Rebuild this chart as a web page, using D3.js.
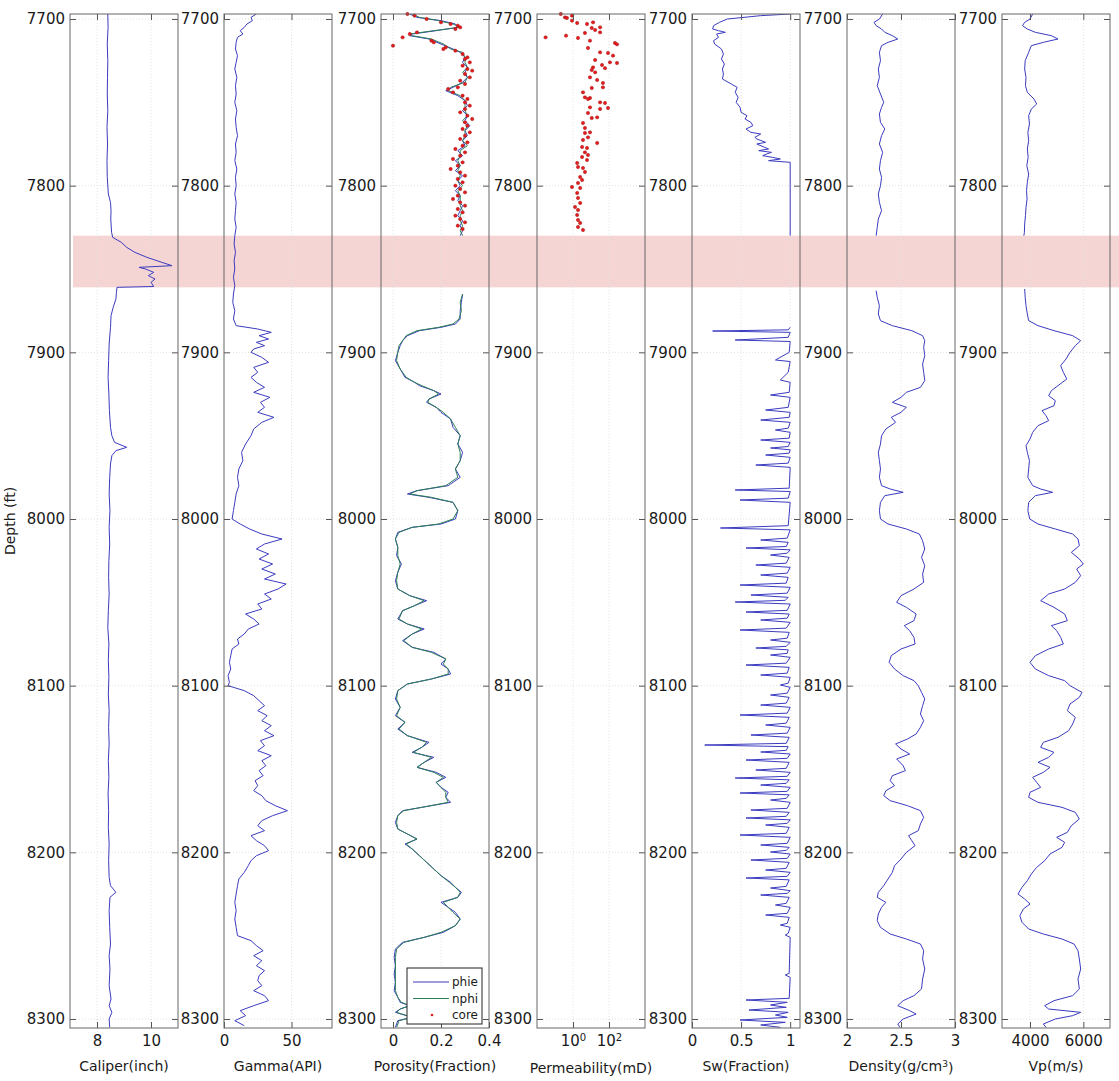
<!DOCTYPE html>
<html>
<head>
<meta charset="utf-8">
<script src="https://cdn.jsdelivr.net/npm/d3@7"></script>
<style>
  body { margin: 0; background: #fff; }
  svg text { font-family: "DejaVu Sans", sans-serif; fill: #1a1a1a; }
</style>
</head>
<body>
<div id="chart"></div>
<script>
// depth ticks and the washout zone (ft)
const depthTicks = [7700, 7800, 7900, 8000, 8100, 8200, 8300]
const zoneTop = 7830
const zoneBottom = 7861

// [depth ft, value] pairs; null = no data
const caliper = [
  [7697, 8.40], [7705, 8.41], [7715, 8.38], [7725, 8.40], [7735, 8.39], [7745, 8.38], [7755, 8.40],
  [7765, 8.37], [7775, 8.39], [7785, 8.37], [7795, 8.38], [7805, 8.42], [7810, 8.50], [7815, 8.52],
  [7820, 8.51], [7828, 8.54], [7831, 8.58], [7834, 8.9], [7837, 9.1], [7840, 9.4], [7843, 9.85],
  [7846, 10.4], [7848, 10.78], [7849, 9.56], [7850, 9.8], [7852, 10.1], [7854, 9.9], [7856, 10.15],
  [7858, 10.0], [7860.5, 10.1], [7861, 8.74], [7864, 8.72], [7868, 8.7], [7873, 8.6], [7878, 8.52],
  [7885, 8.5], [7895, 8.45], [7905, 8.43], [7915, 8.41], [7925, 8.44], [7935, 8.46], [7945, 8.5],
  [7950, 8.55], [7954, 8.65], [7957, 9.1], [7959, 8.7], [7962, 8.55], [7967, 8.5], [7975, 8.47],
  [7985, 8.45], [7995, 8.48], [8005, 8.45], [8015, 8.47], [8025, 8.44], [8035, 8.43], [8045, 8.45],
  [8055, 8.42], [8065, 8.4], [8075, 8.44], [8085, 8.42], [8095, 8.44], [8105, 8.42], [8115, 8.45],
  [8125, 8.43], [8135, 8.45], [8145, 8.42], [8155, 8.44], [8165, 8.41], [8175, 8.43], [8185, 8.42],
  [8195, 8.45], [8205, 8.43], [8215, 8.45], [8220, 8.5], [8224, 8.7], [8227, 8.48], [8235, 8.45],
  [8245, 8.47], [8255, 8.5], [8262, 8.45], [8270, 8.48], [8280, 8.45], [8288, 8.52], [8292, 8.45],
  [8296, 8.55], [8300, 8.45], [8305, 8.47]
]

const gamma = [
  [7697, 24], [7699, 20], [7701, 21], [7703, 17], [7705, 15], [7707, 12], [7709, 14], [7711, 10],
  [7714, 9], [7718, 8.5], [7722, 10], [7726, 9], [7730, 8], [7735, 9.5], [7740, 8.5], [7745, 9],
  [7750, 8], [7755, 9.5], [7760, 8.5], [7765, 9], [7770, 10], [7775, 8.5], [7780, 9], [7785, 8],
  [7790, 9.5], [7795, 8.5], [7800, 9], [7805, 8], [7810, 9], [7815, 8.5], [7820, 8], [7825, 9],
  [7830, 8], [7835, 7.5], [7840, 8.5], [7845, 7.5], [7850, 8], [7855, 7], [7860, 8], [7865, 7],
  [7870, 6.5], [7875, 8], [7880, 7], [7884, 9], [7886, 25], [7888, 35], [7890, 26], [7892, 33],
  [7894, 24], [7896, 30], [7898, 22], [7900, 20], [7903, 28], [7906, 33], [7909, 22], [7912, 25],
  [7915, 20], [7918, 24], [7921, 30], [7924, 22], [7927, 34], [7930, 27], [7933, 30], [7936, 25],
  [7939, 37], [7942, 28], [7946, 22], [7950, 20], [7955, 16], [7960, 13], [7965, 14], [7970, 11],
  [7975, 10], [7980, 11], [7985, 9], [7990, 8], [7995, 7], [8000, 6], [8003, 12], [8006, 19],
  [8009, 28], [8012, 43], [8015, 30], [8018, 24], [8021, 33], [8024, 26], [8027, 36], [8030, 28],
  [8033, 38], [8036, 30], [8039, 46], [8042, 40], [8045, 30], [8048, 35], [8051, 25], [8054, 28],
  [8057, 16], [8060, 22], [8063, 26], [8066, 18], [8069, 15], [8072, 10], [8075, 11], [8078, 6],
  [8082, 5], [8086, 4], [8090, 5], [8094, 3], [8098, 4], [8100, 3], [8103, 15], [8106, 22],
  [8109, 26], [8112, 30], [8115, 25], [8118, 32], [8121, 28], [8124, 35], [8127, 30], [8130, 37],
  [8133, 27], [8136, 30], [8139, 25], [8142, 35], [8145, 28], [8148, 31], [8151, 26], [8154, 29],
  [8157, 23], [8160, 25], [8163, 22], [8166, 28], [8169, 31], [8172, 38], [8175, 47], [8178, 36],
  [8181, 28], [8184, 25], [8187, 30], [8190, 20], [8193, 24], [8196, 30], [8199, 33], [8202, 24],
  [8205, 20], [8208, 18], [8212, 15], [8216, 11], [8220, 10], [8225, 9], [8230, 8], [8235, 9],
  [8240, 8], [8245, 9], [8250, 10], [8253, 20], [8256, 24], [8259, 29], [8262, 22], [8265, 28],
  [8268, 24], [8271, 30], [8274, 26], [8277, 25], [8280, 28], [8283, 22], [8286, 30], [8289, 33],
  [8292, 22], [8295, 12], [8298, 16], [8301, 8], [8304, 15]
]

const phie = [
  [7697, 0.07], [7699, 0.1], [7701, 0.2], [7703, 0.26], [7705, 0.27], [7707, 0.18], [7709, 0.08],
  [7710, 0.07], [7712, 0.15], [7715, 0.2], [7718, 0.25], [7720, 0.28], [7723, 0.3], [7726, 0.29],
  [7729, 0.31], [7732, 0.3], [7735, 0.31], [7738, 0.29], [7741, 0.25], [7743, 0.22], [7746, 0.27],
  [7749, 0.3], [7752, 0.31], [7755, 0.29], [7758, 0.31], [7761, 0.3], [7764, 0.32], [7767, 0.3],
  [7770, 0.31], [7773, 0.29], [7776, 0.3], [7779, 0.27], [7782, 0.29], [7785, 0.26], [7788, 0.28],
  [7791, 0.26], [7794, 0.29], [7797, 0.27], [7800, 0.28], [7803, 0.26], [7806, 0.28], [7809, 0.27],
  [7812, 0.29], [7815, 0.28], [7818, 0.27], [7821, 0.29], [7824, 0.28], [7827, 0.29], [7830, 0.28],
  [7845, null],
  [7865, 0.29], [7870, 0.285], [7875, 0.28], [7880, 0.28], [7883, 0.26], [7885, 0.2], [7887, 0.11],
  [7890, 0.06], [7893, 0.04], [7896, 0.03], [7900, 0.02], [7905, 0.01], [7910, 0.03], [7915, 0.05],
  [7918, 0.09], [7920, 0.11], [7923, 0.17], [7925, 0.2], [7928, 0.15], [7930, 0.14], [7933, 0.18],
  [7936, 0.2], [7940, 0.24], [7945, 0.25], [7950, 0.28], [7955, 0.27], [7960, 0.29], [7965, 0.28],
  [7970, 0.26], [7975, 0.28], [7980, 0.23], [7983, 0.1], [7985, 0.06], [7987, 0.15], [7990, 0.25],
  [7995, 0.27], [8000, 0.26], [8003, 0.2], [8005, 0.08], [8008, 0.02], [8012, 0.01], [8017, 0.02],
  [8022, 0.015], [8027, 0.035], [8032, 0.02], [8037, 0.01], [8042, 0.02], [8046, 0.07], [8049, 0.14],
  [8052, 0.09], [8055, 0.04], [8060, 0.02], [8063, 0.06], [8066, 0.13], [8069, 0.08], [8073, 0.04],
  [8077, 0.08], [8080, 0.17], [8084, 0.22], [8087, 0.2], [8090, 0.23], [8093, 0.24], [8096, 0.16],
  [8099, 0.06], [8103, 0.02], [8108, 0.01], [8113, 0.03], [8118, 0.01], [8122, 0.05], [8126, 0.02],
  [8130, 0.06], [8134, 0.15], [8137, 0.12], [8140, 0.08], [8143, 0.17], [8146, 0.13], [8149, 0.1],
  [8152, 0.18], [8155, 0.22], [8158, 0.18], [8161, 0.2], [8164, 0.23], [8167, 0.22], [8170, 0.24],
  [8173, 0.12], [8175, 0.04], [8178, 0.02], [8182, 0.01], [8186, 0.02], [8189, 0.06], [8192, 0.1],
  [8195, 0.05], [8198, 0.08], [8202, 0.11], [8206, 0.14], [8210, 0.17], [8214, 0.2], [8218, 0.24],
  [8221, 0.26], [8224, 0.285], [8227, 0.27], [8230, 0.2], [8233, 0.23], [8236, 0.26], [8240, 0.28],
  [8244, 0.26], [8248, 0.21], [8251, 0.13], [8254, 0.04], [8258, 0.01], [8263, 0.005], [8268, 0.01],
  [8273, 0.005], [8278, 0.01], [8283, 0.005], [8287, 0.02], [8290, 0.03], [8292, 0.07], [8294, 0.03],
  [8296, 0.01], [8299, 0.08], [8301, 0.02], [8305, 0.01]
]

const nphi = [
  [7697, 0.08], [7699, 0.11], [7701, 0.19], [7703, 0.25], [7705, 0.28], [7707, 0.17], [7709, 0.07],
  [7710, 0.08], [7712, 0.16], [7715, 0.21], [7718, 0.24], [7720, 0.29], [7723, 0.3], [7726, 0.3],
  [7729, 0.31], [7732, 0.29], [7735, 0.31], [7738, 0.3], [7741, 0.24], [7743, 0.23], [7746, 0.28],
  [7749, 0.3], [7752, 0.3], [7755, 0.3], [7758, 0.31], [7761, 0.29], [7764, 0.31], [7767, 0.3],
  [7770, 0.3], [7773, 0.29], [7776, 0.31], [7779, 0.28], [7782, 0.28], [7785, 0.27], [7788, 0.28],
  [7791, 0.27], [7794, 0.28], [7797, 0.27], [7800, 0.29], [7803, 0.27], [7806, 0.28], [7809, 0.28],
  [7812, 0.28], [7815, 0.29], [7818, 0.28], [7821, 0.28], [7824, 0.29], [7827, 0.28], [7830, 0.29],
  [7845, null],
  [7865, 0.29], [7870, 0.28], [7875, 0.285], [7880, 0.275], [7883, 0.25], [7885, 0.19], [7887, 0.1],
  [7890, 0.055], [7893, 0.04], [7896, 0.025], [7900, 0.02], [7905, 0.015], [7910, 0.03], [7915, 0.055],
  [7918, 0.09], [7920, 0.12], [7923, 0.17], [7925, 0.19], [7928, 0.15], [7930, 0.145], [7933, 0.18],
  [7936, 0.21], [7940, 0.24], [7945, 0.26], [7950, 0.28], [7955, 0.27], [7960, 0.28], [7965, 0.28],
  [7970, 0.26], [7975, 0.27], [7980, 0.22], [7983, 0.1], [7985, 0.07], [7987, 0.16], [7990, 0.25],
  [7995, 0.27], [8000, 0.25], [8003, 0.19], [8005, 0.08], [8008, 0.025], [8012, 0.01], [8017, 0.02],
  [8022, 0.02], [8027, 0.03], [8032, 0.02], [8037, 0.015], [8042, 0.02], [8046, 0.07], [8049, 0.13],
  [8052, 0.09], [8055, 0.04], [8060, 0.025], [8063, 0.06], [8066, 0.12], [8069, 0.08], [8073, 0.045],
  [8077, 0.08], [8080, 0.16], [8084, 0.22], [8087, 0.21], [8090, 0.23], [8093, 0.23], [8096, 0.16],
  [8099, 0.06], [8103, 0.02], [8108, 0.015], [8113, 0.03], [8118, 0.015], [8122, 0.05], [8126, 0.025],
  [8130, 0.06], [8134, 0.14], [8137, 0.12], [8140, 0.085], [8143, 0.16], [8146, 0.13], [8149, 0.1],
  [8152, 0.17], [8155, 0.21], [8158, 0.18], [8161, 0.2], [8164, 0.22], [8167, 0.22], [8170, 0.23],
  [8173, 0.12], [8175, 0.045], [8178, 0.02], [8182, 0.015], [8186, 0.02], [8189, 0.06], [8192, 0.1],
  [8195, 0.055], [8198, 0.08], [8202, 0.11], [8206, 0.14], [8210, 0.17], [8214, 0.2], [8218, 0.235],
  [8221, 0.26], [8224, 0.28], [8227, 0.27], [8230, 0.21], [8233, 0.23], [8236, 0.25], [8240, 0.28],
  [8244, 0.26], [8248, 0.2], [8251, 0.13], [8254, 0.045], [8258, 0.015], [8263, 0.01], [8268, 0.01],
  [8273, 0.01], [8278, 0.01], [8283, 0.01], [8287, 0.02], [8290, 0.035], [8292, 0.07], [8294, 0.03],
  [8296, 0.015], [8299, 0.08], [8301, 0.025], [8305, 0.015]
]

const corePhi = [
  [7697, 0.06], [7698, 0.09], [7700, 0.14], [7702, 0.2], [7703, 0.24], [7704, 0.27], [7705, 0.28],
  [7706, 0.26], [7708, 0.1], [7709, 0.07], [7711, 0.04], [7713, 0.16], [7714, 0.17], [7716, 0.0],
  [7717, 0.22], [7718, 0.21], [7719, 0.26], [7721, 0.29], [7723, 0.31], [7724, 0.3], [7726, 0.32],
  [7728, 0.29], [7730, 0.31], [7731, 0.33], [7733, 0.3], [7735, 0.32], [7737, 0.28], [7739, 0.3],
  [7741, 0.27], [7742, 0.23], [7744, 0.25], [7746, 0.29], [7748, 0.31], [7750, 0.3], [7752, 0.32],
  [7754, 0.3], [7756, 0.28], [7758, 0.31], [7760, 0.33], [7762, 0.3], [7764, 0.31], [7766, 0.29],
  [7768, 0.32], [7770, 0.3], [7772, 0.28], [7774, 0.31], [7776, 0.29], [7778, 0.26], [7780, 0.3],
  [7782, 0.28], [7784, 0.25], [7786, 0.29], [7788, 0.27], [7790, 0.24], [7792, 0.28], [7794, 0.3],
  [7796, 0.27], [7798, 0.29], [7800, 0.26], [7802, 0.28], [7804, 0.3], [7806, 0.27], [7808, 0.25],
  [7810, 0.28], [7812, 0.3], [7814, 0.27], [7816, 0.29], [7818, 0.26], [7820, 0.28], [7822, 0.3],
  [7824, 0.27], [7826, 0.29]
]

const corePerm = [
  [7697, 0.21], [7699, 0.36], [7699.4, 0.46], [7698, 0.88], [7701, 0.88], [7702.4, 1.7], [7703, 6],
  [7702, 13], [7705.4, 11], [7706.6, 17], [7705, 32], [7708, 32], [7708.4, 4.6], [7711, 0.03],
  [7710, 0.41], [7711.4, 1.9], [7713, 8.8], [7714.4, 215], [7715.2, 278], [7717.4, 6.8], [7720, 32],
  [7720.4, 88], [7722, 167], [7726.4, 278], [7724.6, 17], [7726, 113], [7729, 13], [7727.6, 41],
  [7729.5, 60], [7730.6, 11], [7732, 17], [7735, 8.8], [7736.6, 22], [7738.4, 46], [7741, 46],
  [7744, 3.6], [7741.4, 11], [7747, 4.6], [7747.4, 8.8], [7748, 6.8], [7750, 32], [7750.4, 60],
  [7753.4, 88], [7754, 32], [7753, 8.8], [7756.4, 6.8], [7759, 22], [7759.4, 11], [7762.4, 3.6],
  [7765.4, 4.6], [7768, 8.8], [7768.4, 4.6], [7771, 6.8], [7772.6, 3.6], [7774.4, 22], [7776.8, 3.2],
  [7777.4, 6], [7780, 4.6], [7781.6, 6.8], [7782.8, 3.2], [7784.6, 6], [7786.4, 1.7], [7788.8, 1.9],
  [7789.4, 3.6], [7791.8, 4.6], [7794.8, 2.5], [7796.6, 3.2], [7798.4, 1.9], [7800.8, 0.88],
  [7801.4, 2.5], [7804.4, 1.7], [7807.4, 1.9], [7810.4, 2.5], [7812.8, 1.3], [7814.6, 1.9],
  [7817.6, 1.7], [7820.6, 1.9], [7822.4, 2.5], [7824.8, 1.9], [7826.6, 3.6]
]

const sw = [
  [7697, 1.0], [7698, 0.7], [7700, 0.36], [7702, 0.28], [7704, 0.22], [7706, 0.21], [7707, 0.27],
  [7708, 0.34], [7709, 0.25], [7711, 0.27], [7713, 0.22], [7715, 0.23], [7718, 0.3], [7721, 0.32],
  [7724, 0.3], [7727, 0.33], [7730, 0.31], [7733, 0.32], [7736, 0.31], [7739, 0.4], [7741, 0.46],
  [7744, 0.44], [7747, 0.47], [7750, 0.45], [7753, 0.49], [7756, 0.5], [7758, 0.56], [7760, 0.54],
  [7762, 0.6], [7764, 0.62], [7766, 0.55], [7768, 0.6], [7769, 0.7], [7771, 0.64], [7772, 0.66],
  [7774, 0.75], [7775, 0.66], [7777, 0.74], [7778, 0.78], [7779, 0.68], [7780, 0.81], [7781, 0.76],
  [7782, 0.72], [7783, 0.82], [7784, 0.9], [7785, 0.78], [7786, 1.0], [7800, 1.0], [7830, 1.0],
  [7850, null],
  [7885, 1.0], [7886.5, 0.98], [7887.2, 0.21], [7888, 1.0], [7891, 0.98], [7892.6, 0.44], [7893.5, 1.0],
  [7900, 0.99], [7904.6, 0.85], [7905.5, 1.0], [7912, 0.98], [7916.6, 0.9], [7918, 1.0], [7924, 0.99],
  [7925.6, 0.8], [7927, 1.0], [7933, 0.98], [7934.6, 0.75], [7936, 1.0], [7939, 0.99], [7940.6, 0.7],
  [7942, 1.0], [7945.5, 0.98], [7946.6, 0.85], [7948, 1.0], [7951.5, 0.99], [7952.6, 0.7], [7954, 1.0],
  [7956.5, 0.98], [7957.4, 0.8], [7958.5, 1.0], [7960.5, 0.99], [7961.6, 0.75], [7963, 1.0],
  [7966.5, 0.98], [7967.6, 0.65], [7969, 1.0], [7981.5, 0.99], [7982.6, 0.44], [7983.5, 1.0],
  [7987.5, 0.98], [7988.6, 0.49], [7990, 1.0], [8004, 0.98], [8005.4, 0.29], [8006.5, 1.0],
  [8011.5, 0.97], [8012.6, 0.7], [8014, 0.98], [8016.5, 0.96], [8017.4, 0.55], [8018.5, 1.0],
  [8020.5, 0.97], [8021.6, 0.8], [8023, 0.99], [8026.5, 0.96], [8027.6, 0.65], [8029, 1.0],
  [8032.5, 0.97], [8033.6, 0.7], [8035, 0.98], [8038.5, 0.96], [8039.6, 0.49], [8041, 1.0],
  [8044.5, 0.97], [8045.6, 0.6], [8047, 0.98], [8048.8, 0.95], [8049.8, 0.44], [8051, 1.0],
  [8054.8, 0.97], [8055.8, 0.55], [8057, 0.99], [8059.5, 0.97], [8060.6, 0.7], [8062, 1.0],
  [8065.5, 0.96], [8066.6, 0.49], [8068, 0.99], [8071.5, 0.97], [8072.6, 0.8], [8074, 1.0],
  [8076.4, 0.96], [8077.4, 0.65], [8078.5, 0.98], [8080.6, 0.97], [8081.6, 0.8], [8083, 1.0],
  [8086.5, 0.96], [8087.6, 0.55], [8089, 0.99], [8092.5, 0.97], [8093.6, 0.7], [8095, 1.0],
  [8098.5, 0.98], [8099.6, 0.9], [8101, 1.0], [8104.5, 0.97], [8105.6, 0.8], [8107, 0.99],
  [8110.5, 0.96], [8111.6, 0.7], [8113, 1.0], [8116.5, 0.97], [8117.6, 0.49], [8119, 0.99],
  [8122.5, 0.96], [8123.6, 0.75], [8125, 1.0], [8128.5, 0.97], [8129.6, 0.6], [8131, 0.99],
  [8134.6, 0.96], [8135.6, 0.13], [8136.6, 0.98], [8138.8, 0.96], [8139.8, 0.7], [8141, 1.0],
  [8143.6, 0.97], [8144.6, 0.55], [8146, 0.99], [8149.6, 0.96], [8150.6, 0.65], [8152, 1.0],
  [8154.4, 0.97], [8155.4, 0.44], [8156.5, 0.99], [8158.6, 0.96], [8159.6, 0.7], [8161, 1.0],
  [8163.4, 0.97], [8164.4, 0.49], [8165.5, 0.99], [8167.6, 0.96], [8168.6, 0.8], [8170, 1.0],
  [8173.6, 0.97], [8174.6, 0.6], [8176, 0.99], [8178.4, 0.96], [8179.4, 0.55], [8180.5, 1.0],
  [8182.6, 0.97], [8183.6, 0.75], [8185, 0.99], [8188.6, 0.96], [8189.6, 0.49], [8191, 1.0],
  [8194.6, 0.97], [8195.6, 0.7], [8197, 0.99], [8198.8, 0.96], [8199.8, 0.8], [8201, 1.0],
  [8203.6, 0.97], [8204.6, 0.6], [8206, 0.99], [8209.6, 0.96], [8210.6, 0.75], [8212, 1.0],
  [8214.4, 0.97], [8215.4, 0.55], [8216.5, 0.99], [8220.4, 0.96], [8221.4, 0.8], [8223, 1.0],
  [8224.6, 0.97], [8225.6, 0.7], [8227, 0.99], [8230.6, 0.96], [8231.6, 0.85], [8233, 1.0],
  [8236.6, 0.97], [8237.6, 0.75], [8239, 0.99], [8242.6, 0.97], [8243.6, 0.9], [8245, 1.0],
  [8248.6, 0.98], [8249.6, 0.95], [8251, 1.0], [8272.6, 0.99], [8273.6, 0.95], [8275, 1.0],
  [8287.6, 0.99], [8288.6, 0.55], [8290, 0.97], [8291.6, 0.8], [8293, 0.96], [8294.6, 0.58],
  [8296, 0.98], [8297.6, 0.85], [8299, 0.97], [8300.6, 0.49], [8302, 0.95], [8303.6, 0.7], [8305, 0.9]
]

const density = [
  [7697, 2.33], [7700, 2.3], [7702, 2.25], [7704, 2.27], [7706, 2.32], [7708, 2.35], [7710, 2.42],
  [7712, 2.47], [7714, 2.38], [7716, 2.32], [7720, 2.3], [7725, 2.31], [7730, 2.29], [7735, 2.3],
  [7740, 2.28], [7745, 2.31], [7750, 2.34], [7753, 2.32], [7757, 2.3], [7762, 2.31], [7766, 2.35],
  [7770, 2.32], [7775, 2.3], [7780, 2.33], [7785, 2.31], [7790, 2.3], [7795, 2.32], [7800, 2.31],
  [7805, 2.29], [7810, 2.3], [7815, 2.32], [7820, 2.29], [7825, 2.28], [7830, 2.27],
  [7845, null],
  [7863, 2.27], [7867, 2.28], [7872, 2.3], [7877, 2.29], [7881, 2.31], [7884, 2.42], [7887, 2.6],
  [7890, 2.7], [7893, 2.72], [7897, 2.71], [7902, 2.72], [7907, 2.7], [7912, 2.71], [7917, 2.72],
  [7921, 2.68], [7924, 2.55], [7927, 2.5], [7930, 2.42], [7933, 2.55], [7936, 2.5], [7939, 2.41],
  [7942, 2.45], [7946, 2.36], [7950, 2.32], [7955, 2.31], [7960, 2.29], [7965, 2.3], [7970, 2.31],
  [7975, 2.3], [7980, 2.32], [7982, 2.4], [7984, 2.52], [7986, 2.35], [7990, 2.31], [7995, 2.3],
  [8000, 2.31], [8003, 2.38], [8006, 2.55], [8009, 2.67], [8013, 2.7], [8018, 2.72], [8023, 2.69],
  [8028, 2.72], [8033, 2.7], [8038, 2.71], [8042, 2.62], [8046, 2.5], [8050, 2.46], [8053, 2.55],
  [8057, 2.64], [8061, 2.62], [8064, 2.53], [8067, 2.58], [8071, 2.62], [8075, 2.63], [8078, 2.5],
  [8082, 2.41], [8086, 2.39], [8090, 2.44], [8094, 2.52], [8097, 2.62], [8100, 2.66], [8104, 2.69],
  [8108, 2.72], [8112, 2.7], [8117, 2.68], [8121, 2.71], [8125, 2.68], [8129, 2.64], [8132, 2.56],
  [8135, 2.45], [8138, 2.5], [8141, 2.58], [8144, 2.46], [8148, 2.52], [8151, 2.54], [8154, 2.42],
  [8157, 2.4], [8160, 2.44], [8163, 2.36], [8166, 2.34], [8169, 2.4], [8172, 2.56], [8175, 2.68],
  [8179, 2.71], [8183, 2.68], [8187, 2.66], [8190, 2.57], [8193, 2.6], [8196, 2.63], [8200, 2.55],
  [8204, 2.5], [8208, 2.44], [8212, 2.42], [8216, 2.38], [8220, 2.34], [8224, 2.29], [8227, 2.28],
  [8230, 2.36], [8233, 2.32], [8237, 2.29], [8241, 2.28], [8245, 2.31], [8249, 2.4], [8252, 2.55],
  [8255, 2.68], [8259, 2.71], [8264, 2.7], [8270, 2.72], [8276, 2.7], [8282, 2.69], [8286, 2.62],
  [8289, 2.52], [8292, 2.47], [8295, 2.58], [8297, 2.64], [8300, 2.52], [8303, 2.47], [8305, 2.49]
]

const vp = [
  [7697, 4100], [7700, 4000], [7702, 3800], [7704, 3720], [7706, 3900], [7708, 4200], [7710, 4800],
  [7712, 5050], [7714, 4500], [7716, 4050], [7720, 3950], [7725, 3820], [7730, 3800], [7735, 3850],
  [7740, 3830], [7744, 3900], [7748, 4150], [7751, 4250], [7754, 4050], [7758, 3950], [7763, 3980],
  [7768, 3920], [7773, 3950], [7778, 3900], [7783, 3930], [7788, 3880], [7793, 3950], [7798, 3900],
  [7803, 3870], [7808, 3890], [7813, 3850], [7818, 3830], [7823, 3800], [7828, 3790], [7830, 3770],
  [7845, null],
  [7862, 3800], [7867, 3820], [7872, 3850], [7877, 3900], [7881, 3950], [7884, 4300], [7887, 4900],
  [7890, 5600], [7893, 5900], [7896, 5700], [7900, 5500], [7904, 5350], [7908, 5150], [7912, 5250],
  [7916, 5380], [7920, 5050], [7923, 4800], [7926, 4700], [7929, 4950], [7932, 4900], [7935, 4450],
  [7938, 4600], [7941, 4700], [7944, 4300], [7948, 4100], [7952, 4000], [7956, 3850], [7960, 3900],
  [7965, 3980], [7970, 3950], [7975, 3920], [7980, 4100], [7982, 4400], [7984, 4850], [7986, 4200],
  [7990, 3950], [7995, 3920], [8000, 3990], [8003, 4300], [8006, 4950], [8009, 5600], [8012, 5800],
  [8016, 5850], [8020, 5550], [8024, 5850], [8027, 6000], [8030, 5750], [8034, 5900], [8038, 5700],
  [8042, 5300], [8045, 4700], [8049, 4400], [8053, 4900], [8057, 5300], [8061, 5400], [8064, 4800],
  [8067, 5000], [8071, 5150], [8075, 5250], [8078, 4700], [8082, 4200], [8086, 4000], [8090, 4200],
  [8094, 4700], [8097, 5300], [8100, 5500], [8104, 5950], [8107, 5850], [8111, 5500], [8115, 5400],
  [8119, 5700], [8123, 5600], [8127, 5450], [8131, 5050], [8134, 4500], [8137, 4400], [8140, 4900],
  [8143, 4700], [8146, 4300], [8149, 4750], [8152, 4500], [8155, 4100], [8158, 4250], [8161, 4400],
  [8164, 4000], [8167, 3950], [8170, 4300], [8173, 5200], [8176, 5700], [8180, 5850], [8184, 5550],
  [8188, 5400], [8191, 5000], [8194, 5300], [8197, 5200], [8201, 4750], [8205, 4550], [8209, 4250],
  [8213, 4050], [8217, 3900], [8221, 3700], [8225, 3550], [8228, 3800], [8231, 4000], [8234, 3750],
  [8238, 3620], [8242, 3700], [8246, 3950], [8249, 4500], [8252, 5200], [8255, 5650], [8259, 5800],
  [8264, 5850], [8270, 5900], [8276, 5800], [8282, 5850], [8286, 5600], [8289, 4900], [8292, 4550],
  [8294, 4700], [8296, 5900], [8298, 5600], [8300, 4950], [8303, 4500], [8305, 4600]
]

const W = 1119
const H = 1081
const LINE_BLUE = '#3b3bc0'
const NPHI_GREEN = '#2d7f57'
const CORE_RED = '#e41a1c'
const TICK_FONT = 15

const tracks = [
  { label: 'Caliper(inch)', domain: [7, 11], ticks: [8, 10], curves: [caliper] },
  { label: 'Gamma(API)', domain: [0, 80], ticks: [0, 50], curves: [gamma] },
  { label: 'Porosity(Fraction)', domain: [-0.05, 0.4], ticks: [0, 0.2, 0.4], curves: [phie, nphi], dots: corePhi, legend: true },
  { label: 'Permeability(mD)', domain: [0.01, 10000], ticks: [1, 100], log: true, curves: [], dots: corePerm },
  { label: 'Sw(Fraction)', domain: [0, 1.1], ticks: [0, 0.5, 1], curves: [sw] },
  { label: 'Density(g/cm', sup: '3', domain: [2, 3], ticks: [2, 2.5, 3], curves: [density] },
  { label: 'Vp(m/s)', domain: [2950, 7000], ticks: [4000, 6000], curves: [vp] }
]

const panelLeft = [70, 224, 381, 537, 692, 847, 1002]
const panelW = 108
const plotTop = 14
const plotBottom = 1028

const svg = d3.select('#chart').append('svg')
  .attr('xmlns', 'http://www.w3.org/2000/svg')
  .attr('width', W).attr('height', H)
  .style('background', '#fff')

const y = d3.scaleLinear().domain([7697, 8305.4]).range([plotTop, plotBottom])

// washout zone band, drawn under every track
svg.append('rect')
  .attr('x', panelLeft[0] + 3).attr('y', y(zoneTop))
  .attr('width', W - panelLeft[0] - 3).attr('height', y(zoneBottom) - y(zoneTop))
  .attr('fill', '#f5d4d4')

svg.append('text')
  .attr('transform', `translate(15,${(plotTop + plotBottom) / 2}) rotate(-90)`)
  .attr('text-anchor', 'middle').attr('font-size', 14)
  .text('Depth (ft)')

tracks.forEach((t, i) => {
  const g = svg.append('g').attr('transform', `translate(${panelLeft[i]},0)`)
  const x = (t.log ? d3.scaleLog() : d3.scaleLinear()).domain(t.domain).range([0, panelW])
  const innerTicks = t.ticks.filter((v) => x(v) > 1 && x(v) < panelW - 1)

  // grid
  g.append('g').selectAll('line').data(innerTicks).join('line')
    .attr('x1', (d) => x(d)).attr('x2', (d) => x(d)).attr('y1', plotTop).attr('y2', plotBottom)
    .attr('stroke', '#e2e2e2').attr('stroke-dasharray', '1,2')
  g.append('g').selectAll('line').data(depthTicks).join('line')
    .attr('x1', 0).attr('x2', panelW).attr('y1', (d) => y(d)).attr('y2', (d) => y(d))
    .attr('stroke', '#e2e2e2').attr('stroke-dasharray', '1,2')

  const clipId = `clip${i}`
  g.append('clipPath').attr('id', clipId).append('rect')
    .attr('x', 0).attr('y', plotTop).attr('width', panelW).attr('height', plotBottom - plotTop)

  const line = d3.line().defined((d) => d[1] != null).x((d) => x(d[1])).y((d) => y(d[0]))
  t.curves.forEach((c, k) => {
    g.append('path').datum(c).attr('clip-path', `url(#${clipId})`)
      .attr('fill', 'none').attr('stroke', k === 1 ? NPHI_GREEN : LINE_BLUE)
      .attr('stroke-width', 1).attr('stroke-linejoin', 'round').attr('d', line)
  })

  if (t.dots) {
    g.append('g').selectAll('circle').data(t.dots).join('circle')
      .attr('cx', (d) => x(d[1])).attr('cy', (d) => y(d[0])).attr('r', 1.7)
      .attr('fill', CORE_RED).attr('stroke', '#9b0e10').attr('stroke-width', 0.4)
  }

  // ticks pointing inward, labels outside
  g.append('g').call(d3.axisLeft(y).tickValues(depthTicks).tickSize(-6).tickPadding(5).tickFormat(d3.format('d')))
    .call((a) => a.select('.domain').remove())
    .call((a) => a.selectAll('line').attr('stroke', '#555'))
    .call((a) => a.selectAll('text').attr('font-size', TICK_FONT).attr('font-family', 'DejaVu Sans').attr('fill', '#1a1a1a'))
  g.append('g').attr('transform', `translate(${panelW},0)`)
    .call(d3.axisRight(y).tickValues(depthTicks).tickSize(-6).tickFormat(''))
    .call((a) => a.select('.domain').remove())
    .call((a) => a.selectAll('line').attr('stroke', '#555'))
  g.append('g').attr('transform', `translate(0,${plotTop})`)
    .call(d3.axisTop(x).tickValues(t.ticks).tickSize(-6).tickFormat(''))
    .call((a) => a.select('.domain').remove())
    .call((a) => a.selectAll('line').attr('stroke', '#555'))

  const bx = g.append('g').attr('transform', `translate(0,${plotBottom})`)
    .call(d3.axisBottom(x).tickValues(t.ticks).tickSize(-6).tickPadding(7).tickFormat(t.log ? () => '' : String))
    .call((a) => a.select('.domain').remove())
    .call((a) => a.selectAll('line').attr('stroke', '#555'))
    .call((a) => a.selectAll('text').attr('font-size', TICK_FONT).attr('font-family', 'DejaVu Sans').attr('fill', '#1a1a1a'))

  if (t.log) {
    bx.selectAll('.tick text').each(function (d) {
      const txt = d3.select(this)
      txt.append('tspan').text('10')
      txt.append('tspan').attr('dy', '-0.5em').attr('font-size', 10).text(String(Math.round(Math.log10(d))))
    })
  }

  g.append('rect').attr('x', 0).attr('y', plotTop).attr('width', panelW).attr('height', plotBottom - plotTop)
    .attr('fill', 'none').attr('stroke', '#666').attr('stroke-width', 1)

  const title = g.append('text').attr('x', panelW / 2).attr('y', t.log ? 1073 : 1071)
    .attr('text-anchor', 'middle').attr('font-size', 14).text(t.label)
  if (t.sup) {
    title.append('tspan').attr('dy', '-0.45em').attr('font-size', 9).text(t.sup)
    title.append('tspan').attr('dy', '0.45em').text(')')
  }

  if (t.legend) {
    const lg = g.append('g').attr('transform', `translate(${407 - panelLeft[i]},968)`)
    lg.append('rect').attr('width', 75).attr('height', 56).attr('fill', '#fff').attr('stroke', '#222')
    const rows = [
      { name: 'phie', color: LINE_BLUE, kind: 'line' },
      { name: 'nphi', color: NPHI_GREEN, kind: 'line' },
      { name: 'core', color: CORE_RED, kind: 'dot' }
    ]
    rows.forEach((r, k) => {
      const ry = 14 + k * 16.5
      if (r.kind === 'line') {
        lg.append('line').attr('x1', 6).attr('x2', 42).attr('y1', ry).attr('y2', ry)
          .attr('stroke', r.color).attr('stroke-width', 1)
      } else {
        lg.append('circle').attr('cx', 25).attr('cy', ry).attr('r', 1.3).attr('fill', r.color)
      }
      lg.append('text').attr('x', 45).attr('y', ry + 4).attr('font-size', 12).text(r.name)
    })
  }
})
</script>
</body>
</html>
